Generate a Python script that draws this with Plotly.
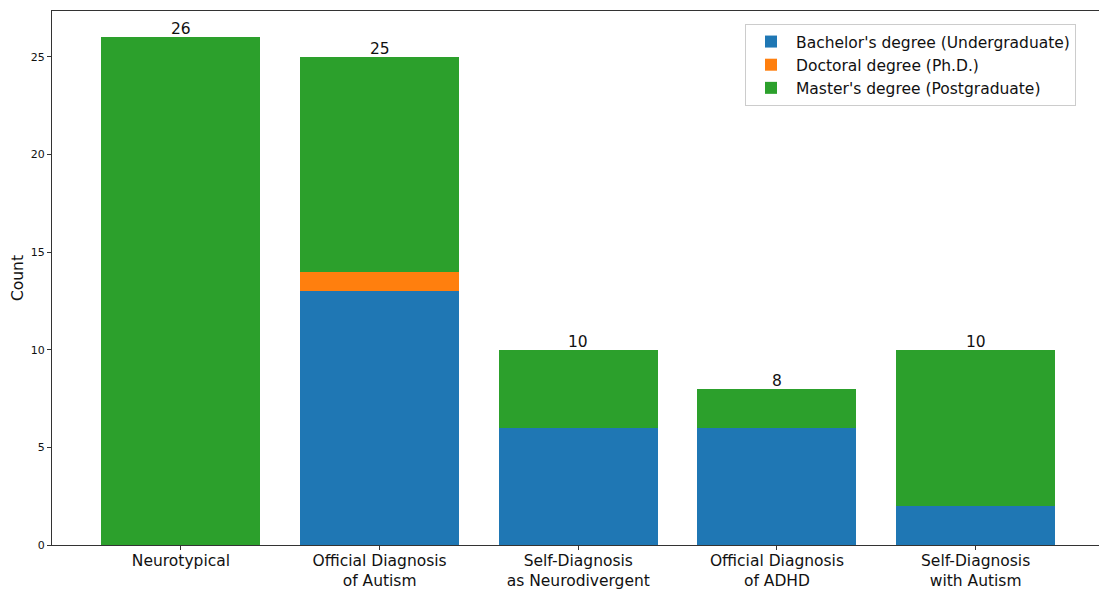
import plotly.graph_objects as go

categories = ["Neurotypical", "Official Diagnosis<br>of Autism", "Self-Diagnosis<br>as Neurodivergent",
              "Official Diagnosis<br>of ADHD", "Self-Diagnosis<br>with Autism"]
bachelor = [0, 13, 6, 6, 2]
doctoral = [0, 1, 0, 0, 0]
master = [26, 11, 4, 2, 8]
series_names = ["Bachelor's degree (Undergraduate)", "Doctoral degree (Ph.D.)", "Master's degree (Postgraduate)"]
colors = ["#1f77b4", "#ff7f0e", "#2ca02c"]
y_ticks = [0, 5, 10, 15, 20, 25]

xs = list(range(len(categories)))
totals = [b + d + m for b, d, m in zip(bachelor, doctoral, master)]

fig = go.Figure()
for name, vals, col in zip(series_names, [bachelor, doctoral, master], colors):
    fig.add_trace(go.Bar(x=xs, y=vals, name=name, marker=dict(color=col, line=dict(width=0)), width=0.8))

for x, t in zip(xs, totals):
    fig.add_annotation(x=x, y=t, text=str(t), showarrow=False, yanchor="bottom", yshift=-3,
                       font=dict(size=15.5, color="#111"))

fig.update_layout(
    barmode="stack",
    width=1099, height=590,
    margin=dict(l=52, r=0, t=11, b=45),
    plot_bgcolor="white", paper_bgcolor="white",
    font=dict(family="DejaVu Sans", color="#111"),
    showlegend=True,
    legend=dict(x=(1076 - 52) / 1047, y=0.9757, xanchor="right", yanchor="top", bgcolor="rgba(255,255,255,0.8)",
                bordercolor="#ccc", borderwidth=1, font=dict(size=15.5), traceorder="normal",
                itemwidth=40),
    xaxis=dict(range=[-0.649, 4.621], tickmode="array", tickvals=xs, ticktext=categories, automargin=False,
               showgrid=False, zeroline=False, showline=True, linecolor="#333", mirror=True,
               ticks="outside", ticklen=4, tickcolor="#333", tickfont=dict(size=15.5)),
    yaxis=dict(range=[0, 27.34], tickmode="array", tickvals=y_ticks, showgrid=False, zeroline=False,
               automargin=False,
               showline=True, linecolor="#333", mirror=False, ticks="outside", ticklen=4, tickcolor="#333",
               tickfont=dict(size=11), title=dict(text="Count", font=dict(size=15.5), standoff=3)),
)
try:
    fig.update_xaxes(ticklabelstandoff=-3)
except Exception:
    pass

fig.write_html("out.html", config={"displayModeBar": False},
               post_script="document.body.style.margin='0';document.body.style.overflow='hidden';")
